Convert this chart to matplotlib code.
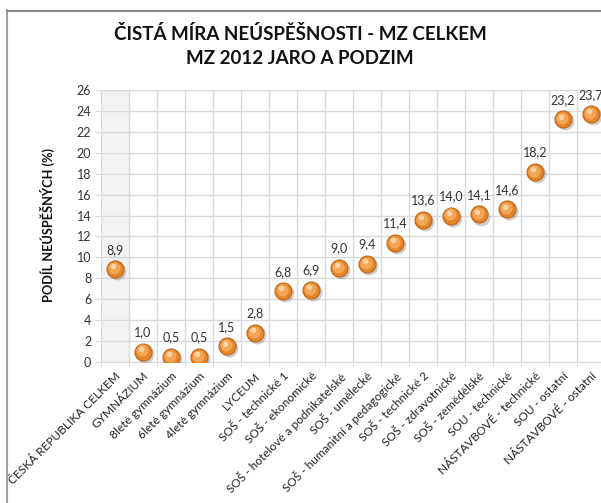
import matplotlib
matplotlib.use("Agg")
import matplotlib.pyplot as plt
from matplotlib.lines import Line2D

plt.rcParams['font.family'] = ['Lato', 'DejaVu Sans']

categories = [
    "ČESKÁ REPUBLIKA CELKEM", "GYMNÁZIUM", "8leté gymnázium", "6leté gymnázium",
    "4leté gymnázium", "LYCEUM", "SOŠ - technické 1", "SOŠ - ekonomické",
    "SOŠ - hotelové a podnikatelské", "SOŠ - umělecké", "SOŠ - humanitní a pedagogické",
    "SOŠ - technické 2", "SOŠ - zdravotnické", "SOŠ - zemědělské", "SOU - technické",
    "NÁSTAVBOVÉ - technické", "SOU - ostatní", "NÁSTAVBOVÉ - ostatní",
]
values = [8.9, 1.0, 0.5, 0.5, 1.5, 2.8, 6.8, 6.9, 9.0, 9.4, 11.4, 13.6, 14.0, 14.1, 14.6, 18.2, 23.2, 23.7]
yticks = list(range(0, 27, 2))
title = "ČISTÁ MÍRA NEÚSPĚŠNOSTI - MZ CELKEM\nMZ 2012 JARO A PODZIM"
ylabel = "PODÍL NEÚSPĚŠNÝCH (%)"

W, H = 601, 503
fig = plt.figure(figsize=(W / 100, H / 100), dpi=100)

# outer chart border (left and top visible)
fig.add_artist(Line2D([6.5 / W, 6.5 / W], [0, 1 - 10 / H], transform=fig.transFigure, color='#a0a0a0', lw=1.5))
fig.add_artist(Line2D([6.5 / W, 1], [1 - 10.5 / H, 1 - 10.5 / H], transform=fig.transFigure, color='#8a8a8a', lw=1.5))

n_slots = 19
left_px, right_px = 101, 101 + n_slots * 28
top_px, bot_px = 90, 362
ax = fig.add_axes([left_px / W, 1 - bot_px / H, (right_px - left_px) / W, (bot_px - top_px) / H])

x = list(range(len(values)))
ax.set_xlim(-0.5, n_slots - 0.5)
ax.set_ylim(0, 26)

# shaded first category
ax.axvspan(-0.5, 0.5, color='#f2f2f2', zorder=0)

# grid
for yv in yticks:
    ax.axhline(yv, color='#d9d9d9', lw=1, zorder=1)
for k in range(n_slots + 1):
    ax.axvline(k - 0.5, color='#d9d9d9', lw=1, zorder=1)

for s in ['top', 'right', 'left']:
    ax.spines[s].set_visible(False)
ax.spines['bottom'].set_color('#d9d9d9')

ax.set_yticks(yticks)
ax.set_yticklabels([str(v) for v in yticks], fontsize=9, color='#333333')
ax.tick_params(axis='y', length=4, color='#d9d9d9', pad=3)

ax.set_xticks([k - 0.5 for k in range(n_slots + 1)], minor=True)
ax.set_xticks(x)
ax.set_xticklabels(categories, rotation=45, ha='right', rotation_mode='anchor', fontsize=8.6, color='#222222')
ax.tick_params(axis='x', which='major', length=0, pad=6)
ax.tick_params(axis='x', which='minor', length=4, color='#d9d9d9')

# markers: shadow, body, highlight
ax.scatter([xi + 0.06 for xi in x], [v - 0.2 for v in values], s=165, color='#9a9a9a', alpha=0.5, zorder=3, linewidths=0)
ax.scatter(x, values, s=150, color='#e5852a', edgecolors='#c06618', linewidths=0.8, zorder=4)
ax.scatter([xi - 0.03 for xi in x], [v + 0.1 for v in values], s=75, color='#f4a555', linewidths=0, zorder=5)
ax.scatter([xi - 0.07 for xi in x], [v + 0.25 for v in values], s=16, color='#fbd3a6', linewidths=0, zorder=6)

for xi, v in zip(x, values):
    ax.annotate(f"{v:.1f}".replace('.', ','), (xi, v), xytext=(0, 9.5), textcoords='offset points',
                ha='center', va='bottom', fontsize=9, color='#333333', zorder=7)

fig.text(47 / W, 1 - 225 / H, ylabel, rotation=90, ha='center', va='center', fontsize=9.2,
         fontweight='bold', color='#111111')

fig.text(300 / W, 1 - 46 / H, title, ha='center', va='center', fontsize=13.5, fontweight='bold',
         color='#111111', linespacing=1.45)

fig.savefig("out.png", dpi=100)
